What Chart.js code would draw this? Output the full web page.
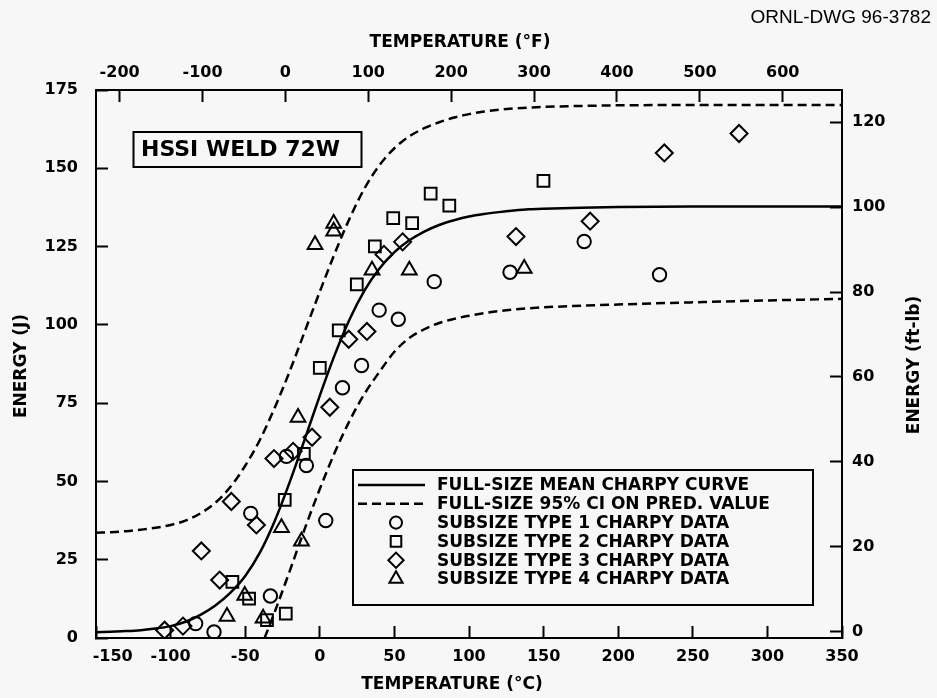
<!DOCTYPE html>
<html>
<head>
<meta charset="utf-8">
<script src="https://cdn.jsdelivr.net/npm/chart.js@4/dist/chart.umd.min.js"></script>
<style>
  html, body { margin: 0; padding: 0; background: #f7f7f7; }
  #wrap { position: relative; width: 937px; height: 698px; }
  canvas { display: block; }
</style>
</head>
<body>
<div id="wrap"><canvas id="chart" width="937" height="698"></canvas></div>
<script>
// ---- axis ticks ----
const C_TICKS = [-150, -100, -50, 0, 50, 100, 150, 200, 250, 300, 350];
const F_TICKS = [-200, -100, 0, 100, 200, 300, 400, 500, 600];
const J_TICKS = [0, 25, 50, 75, 100, 125, 150, 175];
const FTLB_TICKS = [0, 20, 40, 60, 80, 100, 120];

// ---- full-size Charpy curves (temperature in degC, energy in J) ----
const CURVE_T = [-150, -140, -130, -120, -110, -100, -90, -80, -70, -60, -50, -40, -30, -20, -10, 0, 10, 20, 30, 40, 50, 60, 70, 80, 90, 100, 110, 120, 130, 140, 150, 175, 200, 250, 300, 350];
const MEAN_E = [1.8, 2.0, 2.2, 2.5, 3.0, 3.8, 5.2, 7.4, 10.4, 14.4, 19.8, 27.4, 37.6, 50.0, 63.6, 77.4, 90.4, 101.8, 111.0, 118.0, 123.2, 127.0, 129.8, 131.9, 133.4, 134.6, 135.4, 136.0, 136.5, 136.9, 137.1, 137.4, 137.6, 137.8, 137.8, 137.8];
const UPPER_E = [33.6, 33.8, 34.1, 34.6, 35.2, 36.1, 37.5, 39.8, 43.2, 48.2, 55.0, 63.4, 73.8, 85.4, 98.0, 110.6, 122.8, 134.0, 143.6, 151.0, 156.4, 160.2, 162.8, 164.7, 166.2, 167.3, 168.1, 168.7, 169.1, 169.4, 169.6, 169.9, 170.1, 170.2, 170.2, 170.2];
const LOWER_T = [-37, -30, -20, -10, 0, 10, 20, 30, 40, 50, 60, 70, 80, 90, 100, 110, 120, 130, 140, 150, 175, 200, 250, 300, 350];
const LOWER_E = [0, 8.6, 21.6, 35.0, 47.6, 59.2, 69.4, 78.0, 85.0, 91.4, 95.8, 98.6, 100.6, 101.9, 102.9, 103.7, 104.4, 104.9, 105.3, 105.6, 106.1, 106.5, 107.2, 107.8, 108.3];

// ---- subsize specimen data ----
const TYPE1_T = [-83.2, -70.9, -46.3, -33.1, -22.4, -9, 4, 15.2, 28, 39.8, 52.6, 76.7, 127.5, 177.2, 227.7];
const TYPE1_E = [4.6, 1.9, 39.8, 13.4, 58, 55.1, 37.5, 79.9, 87, 104.7, 101.8, 113.8, 116.8, 126.6, 116];
const TYPE2_T = [-58.6, -47.4, -35.4, -23.5, -22.8, -10.7, 0, 12.7, 24.8, 36.9, 49.2, 61.9, 74.3, 86.8, 149.9];
const TYPE2_E = [17.9, 12.6, 5.7, 44.1, 7.8, 58.8, 86.3, 98.2, 112.9, 125.1, 134.1, 132.5, 141.9, 138.1, 146];
const TYPE3_T = [-104, -91.7, -79.4, -67.1, -59.3, -42.5, -30.7, -17.9, -5.2, 6.7, 19.4, 31.6, 43, 55.5, 131.5, 181.2, 230.9, 281];
const TYPE3_E = [2.5, 3.8, 27.8, 18.5, 43.6, 36.1, 57.3, 59.6, 64.1, 73.7, 95.4, 97.9, 122.5, 126.5, 128.2, 133.1, 154.9, 161.1];
const TYPE4_T = [-62.2, -50.3, -38, -25.7, -14.6, -12.3, -3.2, 9.3, 9.3, 35, 60, 137];
const TYPE4_E = [6.9, 13.6, 6.3, 35.2, 70.4, 30.9, 125.6, 132.4, 129.9, 117.4, 117.4, 118];

const LEGEND_LABELS = [
  'FULL-SIZE MEAN CHARPY CURVE',
  'FULL-SIZE 95% CI ON PRED. VALUE',
  'SUBSIZE TYPE 1 CHARPY DATA',
  'SUBSIZE TYPE 2 CHARPY DATA',
  'SUBSIZE TYPE 3 CHARPY DATA',
  'SUBSIZE TYPE 4 CHARPY DATA'
];

const INK = '#000000';
const BG = '#f7f7f7';
const FONT = '"DejaVu Sans", sans-serif';

// secondary axes as registered on the drawing (deg F on top, ft-lb on the right)
const F_RANGE = [-228.5, 671.5];
const FTLB_RANGE = [-1.5, 127.6];

const toXY = (xs, ys) => xs.map((x, i) => ({ x: x, y: ys[i] }));

const curveStyle = (dash) => ({
  showLine: true,
  pointRadius: 0,
  pointHoverRadius: 0,
  borderColor: INK,
  borderWidth: 2.5,
  borderDash: dash,
  fill: false,
  cubicInterpolationMode: 'monotone',
  order: 2
});

const markerStyle = (style, radius) => ({
  showLine: false,
  pointStyle: style,
  pointRadius: radius,
  pointHoverRadius: radius,
  pointBorderWidth: 2,
  pointBorderColor: INK,
  pointBackgroundColor: 'rgba(0,0,0,0)',
  order: 1
});

const datasets = [
  Object.assign({ label: LEGEND_LABELS[0], data: toXY(CURVE_T, MEAN_E) }, curveStyle([])),
  Object.assign({ label: LEGEND_LABELS[1], data: toXY(CURVE_T, UPPER_E) }, curveStyle([9, 5])),
  Object.assign({ label: LEGEND_LABELS[1] + ' (lower)', data: toXY(LOWER_T, LOWER_E) }, curveStyle([9, 5])),
  Object.assign({ label: LEGEND_LABELS[2], data: toXY(TYPE1_T, TYPE1_E) }, markerStyle('circle', 6.7)),
  Object.assign({ label: LEGEND_LABELS[3], data: toXY(TYPE2_T, TYPE2_E) }, markerStyle('rect', 8.3)),
  Object.assign({ label: LEGEND_LABELS[4], data: toXY(TYPE3_T, TYPE3_E) }, markerStyle('rectRot', 8.5)),
  Object.assign({ label: LEGEND_LABELS[5], data: toXY(TYPE4_T, TYPE4_E) }, markerStyle('triangle', 8.5))
];

const tickFont = { family: FONT, size: 16, weight: 'bold' };
const gridOpts = { drawOnChartArea: false, drawTicks: true, tickLength: -12, tickWidth: 2, tickColor: INK };
const borderOpts = { display: true, width: 2, color: INK };
const setTicks = values => scale => { scale.ticks = values.map(v => ({ value: v })); };

// Text, frame boxes and legend drawn on top of the plot
const decorations = {
  id: 'decorations',
  beforeDraw(chart) {
    const ctx = chart.ctx;
    ctx.save();
    ctx.fillStyle = BG;
    ctx.fillRect(0, 0, chart.width, chart.height);
    ctx.restore();
  },
  afterDraw(chart) {
    const ctx = chart.ctx;
    ctx.save();
    ctx.fillStyle = INK;
    ctx.strokeStyle = INK;
    ctx.textBaseline = 'middle';

    // axis titles
    ctx.font = 'bold 17px ' + FONT;
    ctx.textAlign = 'center';
    ctx.fillText('TEMPERATURE (\u00B0C)', 452, 685);
    ctx.fillText('TEMPERATURE (\u00B0F)', 460, 43);
    const vtitle = (txt, x, y) => {
      ctx.save();
      ctx.translate(x, y);
      ctx.rotate(-Math.PI / 2);
      ctx.fillText(txt, 0, 0);
      ctx.restore();
    };
    vtitle('ENERGY (J)', 22, 366);
    vtitle('ENERGY (ft-lb)', 915, 365);

    // drawing number
    ctx.font = '19px "Liberation Sans", Arial, sans-serif';
    ctx.textAlign = 'right';
    ctx.fillText('ORNL-DWG 96-3782', 931, 18);

    // material label
    ctx.lineWidth = 2;
    ctx.strokeRect(133.5, 132, 228, 35);
    ctx.font = 'bold 22px ' + FONT;
    ctx.textAlign = 'left';
    ctx.fillText('HSSI WELD 72W', 141, 150);

    // legend
    const lx = 353, ly = 470, lw = 460, lh = 135;
    ctx.fillStyle = BG;
    ctx.fillRect(lx, ly, lw, lh);
    ctx.fillStyle = INK;
    ctx.lineWidth = 2;
    ctx.strokeRect(lx, ly, lw, lh);
    const rowY = i => 485 + i * 18.8;
    ctx.font = 'bold 17px ' + FONT;
    ctx.textAlign = 'left';
    const rows = [datasets[0], datasets[1], datasets[3], datasets[4], datasets[5], datasets[6]];
    rows.forEach((ds, i) => {
      const y = rowY(i);
      if (ds.showLine) {
        ctx.save();
        ctx.lineWidth = ds.borderWidth;
        ctx.setLineDash(ds.borderDash);
        ctx.beginPath();
        ctx.moveTo(358, y);
        ctx.lineTo(425, y);
        ctx.stroke();
        ctx.restore();
      } else {
        ctx.save();
        ctx.lineWidth = ds.pointBorderWidth;
        ctx.strokeStyle = INK;
        ctx.fillStyle = 'rgba(0,0,0,0)';
        Chart.helpers.drawPoint(ctx, {
          pointStyle: ds.pointStyle,
          radius: ds.pointRadius * 0.9,
          rotation: 0,
          borderWidth: ds.pointBorderWidth
        }, 396, y);
        ctx.restore();
      }
      ctx.fillText(LEGEND_LABELS[i], 437, y + 1);
    });
    ctx.restore();
  }
};

new Chart(document.getElementById('chart'), {
  type: 'scatter',
  data: { datasets: datasets },
  plugins: [decorations],
  options: {
    responsive: false,
    devicePixelRatio: 1,
    animation: false,
    events: [],
    layout: { padding: 0 },
    plugins: { legend: { display: false }, tooltip: { enabled: false } },
    scales: {
      x: {
        type: 'linear', position: 'bottom', min: -150, max: 350,
        afterBuildTicks: setTicks(C_TICKS),
        afterFit: s => { s.height = 60; },
        grid: gridOpts, border: borderOpts,
        ticks: {
          padding: 21, color: INK, font: tickFont, maxRotation: 0, autoSkip: false,
          // the corner label sits just inside the frame
          callback: v => (v === C_TICKS[0] ? '      ' + v : String(v))
        }
      },
      xF: {
        type: 'linear', position: 'top', min: F_RANGE[0], max: F_RANGE[1],
        afterBuildTicks: setTicks(F_TICKS),
        afterFit: s => { s.height = 90; },
        grid: gridOpts, border: borderOpts,
        ticks: { padding: 20, color: INK, font: tickFont, maxRotation: 0, autoSkip: false }
      },
      y: {
        type: 'linear', position: 'left', min: 0, max: 175,
        afterBuildTicks: setTicks(J_TICKS),
        afterFit: s => { s.width = 96; },
        grid: gridOpts, border: borderOpts,
        ticks: { padding: 30, color: INK, font: tickFont, autoSkip: false }
      },
      yFt: {
        type: 'linear', position: 'right', min: FTLB_RANGE[0], max: FTLB_RANGE[1],
        afterBuildTicks: setTicks(FTLB_TICKS),
        afterFit: s => { s.width = 95; },
        grid: gridOpts, border: borderOpts,
        ticks: { padding: 22, color: INK, font: tickFont, autoSkip: false }
      }
    }
  }
});
</script>
</body>
</html>
